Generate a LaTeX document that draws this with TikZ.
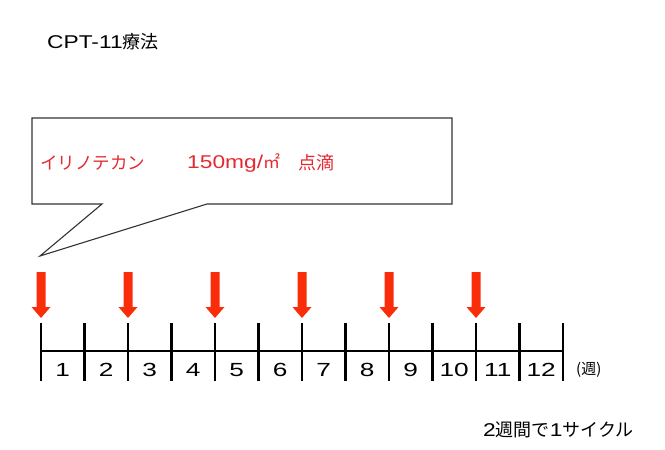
\documentclass[tikz,border=0pt]{standalone}
\usepackage{fontspec}
\setmainfont{Liberation Sans}
\newfontfamily\cjk{Noto Sans CJK JP}
\newfontfamily\widedig[FakeStretch=1.38]{Liberation Sans}
\newfontfamily\widelat[FakeStretch=1.23]{Liberation Sans}
\newcommand{\latpart}{\widelat\fontsize{18.5}{18.5}\selectfont}
\newcommand{\cjkpart}{\cjk\fontsize{18}{18}\selectfont}
\definecolor{txtred}{RGB}{228,42,48}
\definecolor{arrred}{RGB}{250,45,10}
\begin{document}
\begin{tikzpicture}[x=1pt,y=-1pt,
  lbl/.style={inner sep=0pt,anchor=west},
  tick/.style={line width=2.6pt,black},
  doseArrow/.style={fill=arrred,draw=none},
  weeknum/.style={inner sep=0pt,font=\widedig\fontsize{19}{19}\selectfont},
  callout/.style={draw=black!80,line width=1.1pt,fill=white}]
\useasboundingbox (0,0) rectangle (665,450);
% title
\node[lbl] (title) at (47,42) {{\latpart CPT-11}{\cjkpart 療法}};
% callout
\coordinate (tip) at (40,256);
\draw[callout] (32,118) -- (452,118) -- (452,204) -- (207,204) -- (tip) -- (102,204) -- (32,204) -- cycle;
\node[lbl,text=txtred,font=\cjk\fontsize{17.5}{17.5}\selectfont] (drug) at (40,163) {イリノテカン};
\node[lbl,text=txtred] (dose) at (187,163) {{\latpart 150mg/}{\cjk\fontsize{17}{17}\selectfont ㎡}};
\node[lbl,text=txtred,font=\cjkpart] (drip) at (298,163) {点滴};
% axis
\foreach \k in {0,...,12}{
  \coordinate (t\k) at ({41+43.5*\k},323);
  \coordinate (b\k) at ({41+43.5*\k},381);
}
\draw[tick] (41,351) coordinate (axL) -- (563,351) coordinate (axR);
\foreach \k in {0,...,12}{ \draw[tick] (t\k) -- (b\k); }
\foreach \k in {1,...,12}{
  \node[weeknum] (n\k) at ({41+43.5*(\k-0.5)},370) {\k};
}
\node[lbl,font=\cjk\fontsize{15}{15}\selectfont] (unit) at (576,370) {(週)};
% dose arrows
\foreach \k in {0,2,4,6,8,10}{
  \pgfmathsetmacro{\ax}{41+43.5*\k}
  \fill[doseArrow] (\ax-4.5,272) -- (\ax+4.5,272) -- (\ax+4.5,307) -- (\ax+9.5,307) -- (\ax,318) -- (\ax-9.5,307) -- (\ax-4.5,307) -- cycle;
}
% cycle note
\node[lbl] (cyc) at (483,430) {{\latpart 2}{\cjkpart 週間で}{\latpart 1}{\cjkpart サイクル}};
\end{tikzpicture}
\end{document}
